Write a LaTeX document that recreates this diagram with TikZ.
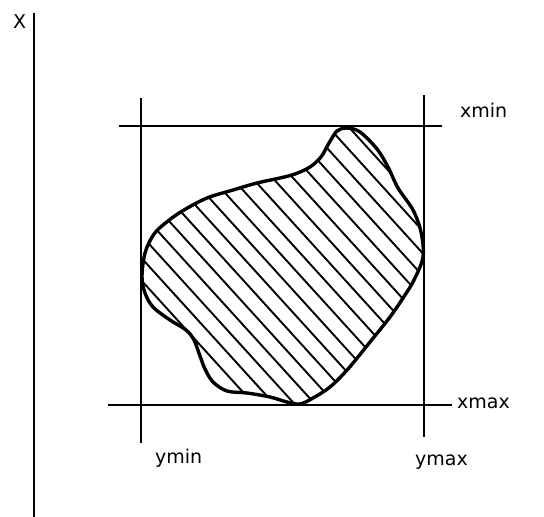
\documentclass[tikz,border=0pt]{standalone}
\usepackage{fontspec}
\setmainfont{DejaVu Sans}
\begin{document}
\begin{tikzpicture}[x=1pt,y=-1pt,
  frame/.style={line width=2pt, black},
  axisline/.style={line width=2.4pt, black},
  outline/.style={line width=3.4pt, black, line join=round},
  hatch/.style={line width=1.9pt, black},
  lbl/.style={font=\fontsize{19}{22}\selectfont, inner sep=0pt, anchor=base west}]
\useasboundingbox (0,0) rectangle (544,517);
\def\blobpath{plot[smooth cycle, tension=0.55] coordinates {
 (280,178) (295,174) (310,167) (321,157) (329,143) (337,131) (347,128) (360,132)
 (377,149) (388,167) (398,188) (413,210) (421,232) (423,257) (414,280)
 (405,295) (390,317) (370,342) (348,369) (330,387) (313,398) (300,404)
 (287,402) (270,397) (247,393) (227,391) (213,382) (205,369) (200,356)
 (194,340) (186,330) (170,320) (153,307) (145,293) (142,277) (145,253)
 (154,234) (168,221) (184,210) (207,198) (233,190) (257,183)}}
% hatching
\begin{scope}
  \clip \blobpath;
  \foreach \k in {-5,...,18}{
    \draw[hatch] ({150+20.4*\k-131.8},100) -- ({150+20.4*\k+159.1},420);
  }
\end{scope}
% outline
\draw[outline] \blobpath;
% frame lines
\coordinate (xminL) at (119,126); \coordinate (xminR) at (442,126);
\coordinate (xmaxL) at (108,405); \coordinate (xmaxR) at (452,405);
\coordinate (yminT) at (141,98);  \coordinate (yminB) at (141,443);
\coordinate (ymaxT) at (424,95);  \coordinate (ymaxB) at (424,437);
\coordinate (axT) at (34,13);     \coordinate (axB) at (34,517);
\draw[frame] (xminL) -- (xminR);
\draw[frame] (xmaxL) -- (xmaxR);
\draw[frame] (yminT) -- (yminB);
\draw[frame] (ymaxT) -- (ymaxB);
\draw[axisline] (axT) -- (axB);
% labels
\node[lbl] (lx) at (13,28) {X};
\node[lbl] (lxmin) at (460,117) {xmin};
\node[lbl] (lxmax) at (457,408) {xmax};
\node[lbl] (lymin) at (155,463) {ymin};
\node[lbl] (lymax) at (415,465) {ymax};
\end{tikzpicture}
\end{document}
